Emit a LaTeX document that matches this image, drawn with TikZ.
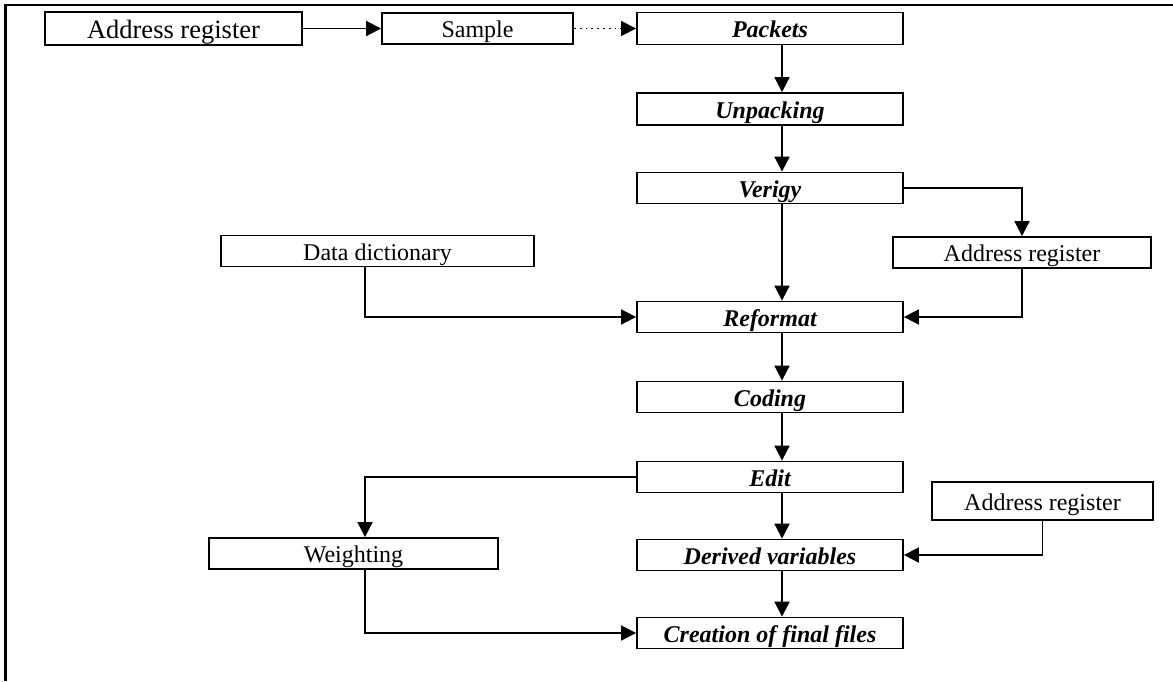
\documentclass[tikz,border=0pt]{standalone}
\usepackage{fontspec}
\setmainfont{Liberation Serif}
\usetikzlibrary{arrows.meta}
\usetikzlibrary{calc}

\begin{document}
\begin{tikzpicture}[x=0.5pt,y=-0.5pt,
	plainbox/.style={draw,line width=0.9pt,inner sep=0pt,minimum height=15.5pt,text height=9.8pt,text depth=0.8pt,font=\fontsize{12}{14}\selectfont},
	procbox/.style={plainbox,minimum width=133pt,font=\fontsize{12}{14}\selectfont\bfseries\itshape},
	arr/.style={line width=0.9pt,-{Triangle[length=7.5pt,width=7.5pt]}}]
			\useasboundingbox (0,0) rectangle (1173,681);
			\draw[line width=1.1pt] (5.5,681) -- (5.5,5) -- (1173,5);
			% top row
			\node[plainbox,minimum width=128.5pt,minimum height=16.5pt,text height=10.5pt,text depth=1pt,font=\fontsize{13.25}{15}\selectfont] (addrTop) at (173.5,28.5) {Address register};
			\node[plainbox,minimum width=95.5pt] (sample) at (477.5,28.5) {Sample};
			\node[procbox,minimum height=16pt] (packets) at (770,28.5) {Packets};
			% main column
			\node[procbox,minimum height=16pt] (unpack) at (770,109) {Unpacking};
			\node[procbox] (verigy) at (770,188) {Verigy};
			\node[procbox] (reformat) at (770,317) {Reformat};
			\node[procbox] (coding) at (770,397) {Coding};
			\node[procbox] (edit) at (770,477) {Edit};
			\node[procbox] (derived) at (770,555) {Derived variables};
			\node[procbox] (creation) at (770,633) {Creation of final files};
			% side boxes
			\node[plainbox,minimum width=156.5pt] (dict) at (377.5,251) {Data dictionary};
			\node[plainbox,minimum width=129pt] (addrR) at (1022,252.5) {Address register};
			\node[plainbox,minimum width=110.5pt,minimum height=19pt] (addrB) at (1042.5,501) {Address register};
			\node[plainbox,minimum width=144.5pt] (weight) at (353.5,553.5) {Weighting};
			% arrows
			\draw[arr] (addrTop.east) -- (sample.west);
			\draw[arr,dotted,line width=0.6pt] (sample.east) -- (packets.west);
			\foreach \a/\b in {packets/unpack,unpack/verigy,verigy/reformat,reformat/coding,coding/edit,edit/derived,derived/creation}
				\draw[arr] ([xshift=6pt]\a.south) -- ([xshift=6pt]\b.north);
			\draw[arr] (verigy.east) -| (addrR.north);
			\draw[arr] (addrR.south) |- (reformat.east);
			\draw[arr] ([xshift=-6.25pt]dict.south) |- (reformat.west);
			\draw[arr] (edit.west) -| ([xshift=5.75pt]weight.north);
			\draw[arr] ([xshift=5.75pt]weight.south) |- (creation.west);
			\draw[arr] (addrB.south) |- (derived.east);
		\end{tikzpicture}
\end{document}
